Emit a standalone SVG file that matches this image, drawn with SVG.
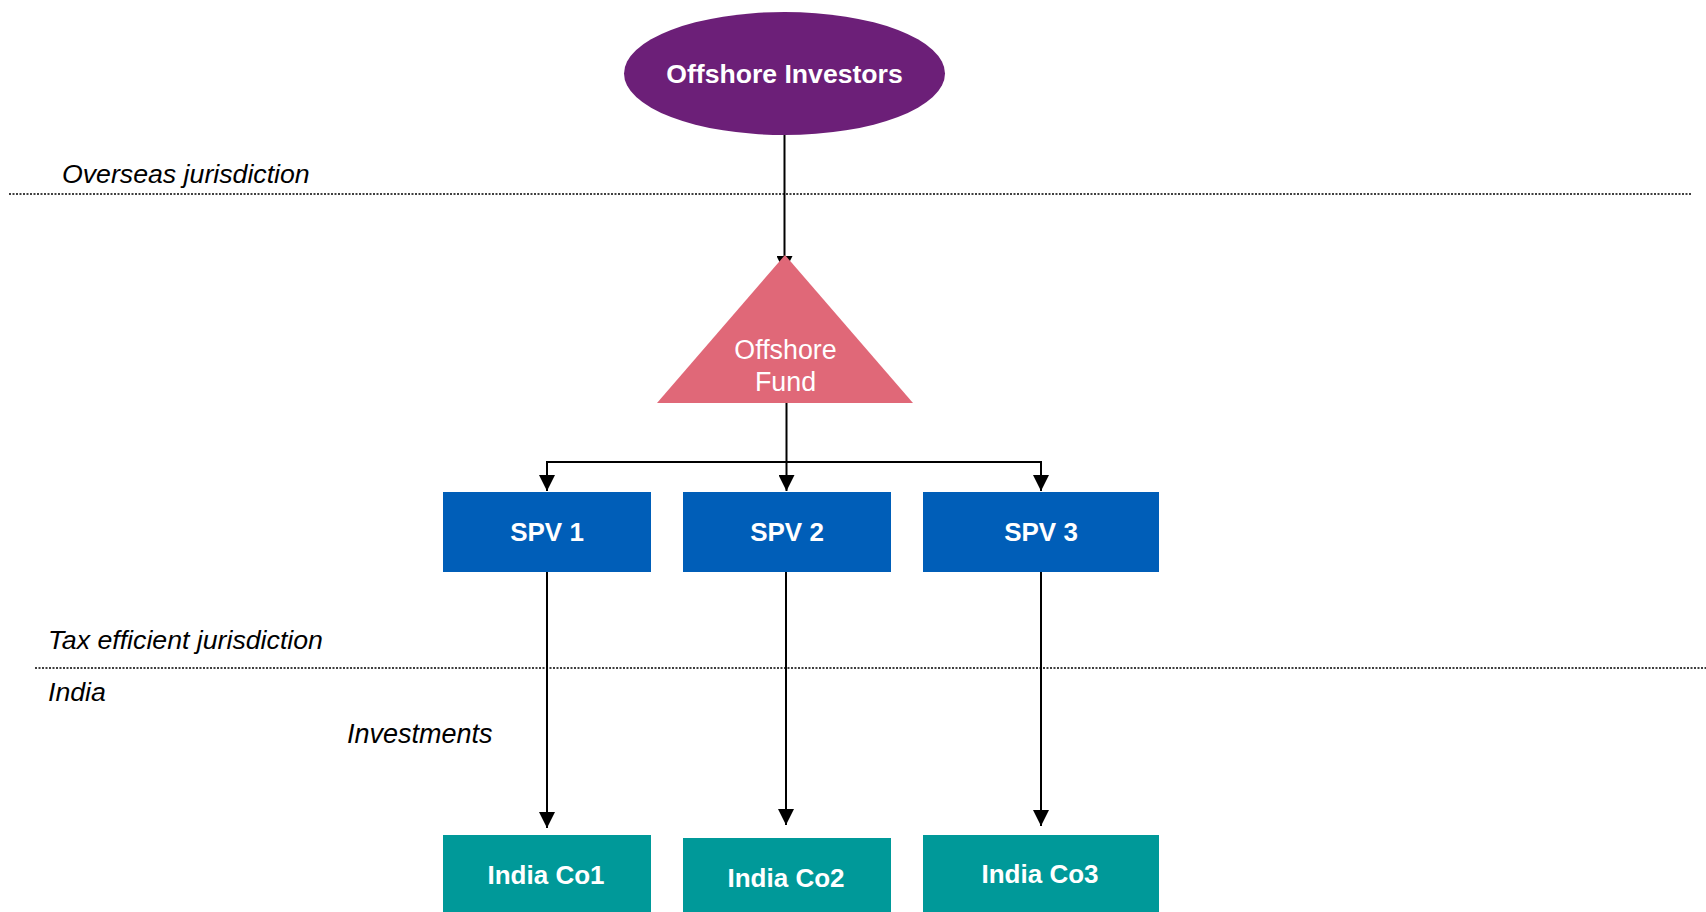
<svg xmlns="http://www.w3.org/2000/svg" width="1706" height="912" viewBox="0 0 1706 912">
<defs>
<style>
.lbl{font-family:"Liberation Sans",Arial,sans-serif;font-style:italic;font-size:26.7px;fill:#000}
.nt{font-family:"Liberation Sans",Arial,sans-serif;font-weight:bold;font-size:26px;fill:#fff;text-anchor:middle}
.ft{font-family:"Liberation Sans",Arial,sans-serif;font-size:26.8px;fill:#fff;text-anchor:middle}
.div{stroke:#000;stroke-width:1.5;stroke-dasharray:2 1.5;fill:none}
.con{stroke:#000;stroke-width:2;fill:none}
.spv{fill:#005EB8}
.co{fill:#009999}
</style>
<marker id="arr" viewBox="0 0 16 16" refX="16" refY="8" markerWidth="16" markerHeight="16" markerUnits="userSpaceOnUse" orient="auto">
<path d="M0,0 L16,8 L0,16 z" fill="#000"/>
</marker>
</defs>
<rect width="1706" height="912" fill="#fff"/>
<g id="dividers">
<line class="div" x1="9" y1="194" x2="1692" y2="194"/>
<line class="div" x1="35" y1="668" x2="1706" y2="668"/>
</g>
<g id="labels">
<text class="lbl" x="62" y="183">Overseas jurisdiction</text>
<text class="lbl" x="48" y="649">Tax efficient jurisdiction</text>
<text class="lbl" x="48" y="701">India</text>
<text class="lbl" x="347" y="743" style="font-size:27px">Investments</text>
</g>
<g id="connectors">
<path class="con" d="M784.5,135 V272" marker-end="url(#arr)"/>
<path class="con" d="M786.5,403 V491" marker-end="url(#arr)"/>
<path class="con" d="M547,462 H1041"/>
<path class="con" d="M547,461 V491" marker-end="url(#arr)"/>
<path class="con" d="M1041,461 V491" marker-end="url(#arr)"/>
<path class="con" d="M547,572 V828" marker-end="url(#arr)"/>
<path class="con" d="M786,572 V825" marker-end="url(#arr)"/>
<path class="con" d="M1041,572 V826" marker-end="url(#arr)"/>
</g>
<g id="offshore-investors">
<ellipse cx="784.5" cy="73.5" rx="160.5" ry="61.5" fill="#6C1F78"/>
<text class="nt" x="784.5" y="83" style="font-size:26.6px">Offshore Investors</text>
</g>
<g id="offshore-fund">
<polygon points="785,255 657,403 913,403" fill="#E06878"/>
<text class="ft" x="785.5" y="359">Offshore</text>
<text class="ft" x="785.5" y="391">Fund</text>
</g>
<g id="spv1">
<rect class="spv" x="443" y="492" width="208" height="80"/>
<text class="nt" x="547" y="541">SPV 1</text>
</g>
<g id="spv2">
<rect class="spv" x="683" y="492" width="208" height="80"/>
<text class="nt" x="787" y="541">SPV 2</text>
</g>
<g id="spv3">
<rect class="spv" x="923" y="492" width="236" height="80"/>
<text class="nt" x="1041" y="541">SPV 3</text>
</g>
<g id="indiaco1">
<rect class="co" x="443" y="835" width="208" height="77"/>
<text class="nt" x="546" y="884">India Co1</text>
</g>
<g id="indiaco2">
<rect class="co" x="683" y="838" width="208" height="74"/>
<text class="nt" x="786" y="887">India Co2</text>
</g>
<g id="indiaco3">
<rect class="co" x="923" y="835" width="236" height="77"/>
<text class="nt" x="1040" y="883">India Co3</text>
</g>
</svg>
